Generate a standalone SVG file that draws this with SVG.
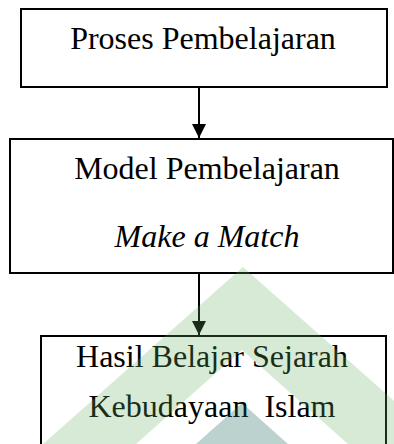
<svg xmlns="http://www.w3.org/2000/svg" width="394" height="444" viewBox="0 0 394 444">
  <style>
    .box { fill: #ffffff; stroke: #000000; stroke-width: 2; }
    .lbl { font-family: "Liberation Serif", "Times New Roman", serif; font-size: 32px; fill: #000000; text-anchor: middle; }
    .it { font-style: italic; }
    .conn { stroke: #000000; stroke-width: 2; fill: none; }
  </style>
  <defs>
    <marker id="arrow" viewBox="0 0 14 14" refX="14" refY="7" markerWidth="14" markerHeight="14" markerUnits="userSpaceOnUse" orient="auto">
      <path d="M0,0 L14,7 L0,14 Z" fill="#000000"/>
    </marker>
  </defs>
  <rect width="394" height="444" fill="#ffffff"/>
  <g id="node-proses">
    <rect class="box" x="21" y="9" width="366" height="78"/>
    <text class="lbl" x="203" y="49">Proses Pembelajaran</text>
  </g>
  <g id="node-model">
    <rect class="box" x="10" y="139" width="383" height="134"/>
    <text class="lbl" x="207" y="179">Model Pembelajaran</text>
    <text class="lbl it" x="207" y="247">Make a Match</text>
  </g>
  <g id="node-hasil">
    <rect class="box" x="41" y="336" width="345" height="120"/>
    <text class="lbl" x="212" y="367">Hasil Belajar Sejarah</text>
    <text class="lbl" x="212" y="417" xml:space="preserve">Kebudayaan  Islam</text>
  </g>
  <g id="connectors">
    <line class="conn" x1="199" y1="87" x2="199" y2="138" marker-end="url(#arrow)"/>
    <line class="conn" x1="199" y1="273" x2="199" y2="335" marker-end="url(#arrow)"/>
  </g>
  <g id="watermark">
    <polygon points="43,444 243,267 443,444 348,444 242,350 136,444" fill="#60ad60" fill-opacity="0.26"/>
    <polygon points="196,444 242,403 288,444" fill="#1f6b5f" fill-opacity="0.3"/>
  </g>
</svg>
